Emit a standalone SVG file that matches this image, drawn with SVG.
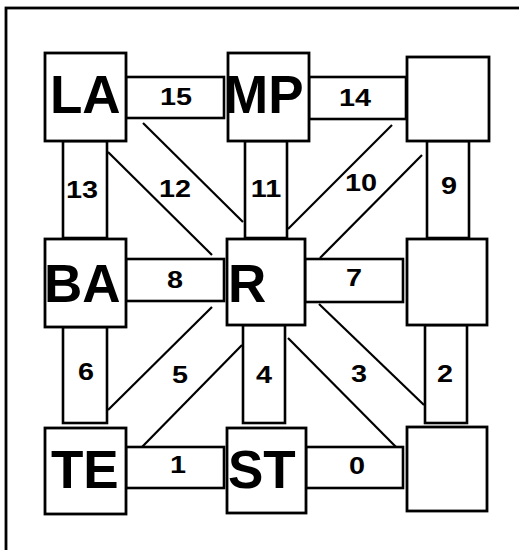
<svg xmlns="http://www.w3.org/2000/svg" width="519" height="550" viewBox="0 0 519 550">
<style>
.frame{fill:none;stroke:#000;stroke-width:2.8}
.box{fill:#fff;stroke:#000;stroke-width:2.8}
.link{fill:#fff;stroke:#000;stroke-width:2.6}
.diag{stroke:#000;stroke-width:2.2;fill:none}
.big{font-family:"Liberation Sans",Arial,sans-serif;font-weight:bold;font-size:53px;fill:#000}
.num{font-family:"Liberation Sans",Arial,sans-serif;font-weight:bold;font-size:24px;fill:#000;text-anchor:middle}
</style>
<rect width="519" height="550" fill="#fff"/>
<rect class="frame" x="6" y="8" width="600" height="600"/>
<g id="connectors">
  <rect class="link" x="126" y="77" width="98" height="41"/>
  <rect class="link" x="309" y="77" width="97" height="42"/>
  <rect class="link" x="63" y="141" width="44" height="97"/>
  <rect class="link" x="245" y="141" width="42" height="97"/>
  <rect class="link" x="427" y="141" width="42" height="97"/>
  <rect class="link" x="126" y="259" width="98" height="42"/>
  <rect class="link" x="305" y="259" width="98" height="43"/>
  <rect class="link" x="63" y="327" width="44" height="96"/>
  <rect class="link" x="243" y="325" width="42" height="98"/>
  <rect class="link" x="425" y="325" width="42" height="98"/>
  <rect class="link" x="126" y="447" width="98" height="41"/>
  <rect class="link" x="306" y="447" width="97" height="41"/>
  <line class="diag" x1="143" y1="123" x2="243" y2="222"/>
  <line class="diag" x1="108" y1="152" x2="212" y2="255"/>
  <line class="diag" x1="392" y1="125" x2="288" y2="229"/>
  <line class="diag" x1="422" y1="155" x2="320" y2="258"/>
  <line class="diag" x1="212" y1="307" x2="108" y2="410"/>
  <line class="diag" x1="242" y1="345" x2="142" y2="447"/>
  <line class="diag" x1="319" y1="304" x2="424" y2="405"/>
  <line class="diag" x1="288" y1="338" x2="396" y2="447"/>
  <text class="num" transform="translate(176,105) scale(1.2,1)">15</text>
  <text class="num" transform="translate(355,106) scale(1.2,1)">14</text>
  <text class="num" transform="translate(82,198) scale(1.2,1)">13</text>
  <text class="num" transform="translate(175,197) scale(1.2,1)">12</text>
  <text class="num" transform="translate(266,197) scale(1.2,1)">11</text>
  <text class="num" transform="translate(361,191) scale(1.2,1)">10</text>
  <text class="num" transform="translate(449,194) scale(1.2,1)">9</text>
  <text class="num" transform="translate(175,288) scale(1.2,1)">8</text>
  <text class="num" transform="translate(354,286) scale(1.2,1)">7</text>
  <text class="num" transform="translate(86,380) scale(1.2,1)">6</text>
  <text class="num" transform="translate(180,383) scale(1.2,1)">5</text>
  <text class="num" transform="translate(264,383) scale(1.2,1)">4</text>
  <text class="num" transform="translate(359,382) scale(1.2,1)">3</text>
  <text class="num" transform="translate(445,382) scale(1.2,1)">2</text>
  <text class="num" transform="translate(178,473) scale(1.2,1)">1</text>
  <text class="num" transform="translate(357,474) scale(1.2,1)">0</text>
</g>
<g id="node-LA"><rect class="box" x="45" y="53" width="81" height="88"/><text class="big" x="50" y="113">LA</text></g>
<g id="node-MP"><rect class="box" x="228" y="53" width="81" height="88"/><text class="big" x="224" y="113">MP</text></g>
<g id="node-TR"><rect class="box" x="407" y="57" width="82" height="84"/></g>
<g id="node-BA"><rect class="box" x="45" y="239" width="81" height="88"/><text class="big" x="44" y="302">BA</text></g>
<g id="node-R"><rect class="box" x="227" y="239" width="78" height="86"/><text class="big" x="228" y="302">R</text></g>
<g id="node-MR"><rect class="box" x="407" y="239" width="80" height="86"/></g>
<g id="node-TE"><rect class="box" x="45" y="428" width="81" height="86"/><text class="big" x="51" y="488">TE</text></g>
<g id="node-ST"><rect class="box" x="227" y="428" width="79" height="85"/><text class="big" x="228" y="488">ST</text></g>
<g id="node-BR"><rect class="box" x="407" y="427" width="80" height="84"/></g>
</svg>
